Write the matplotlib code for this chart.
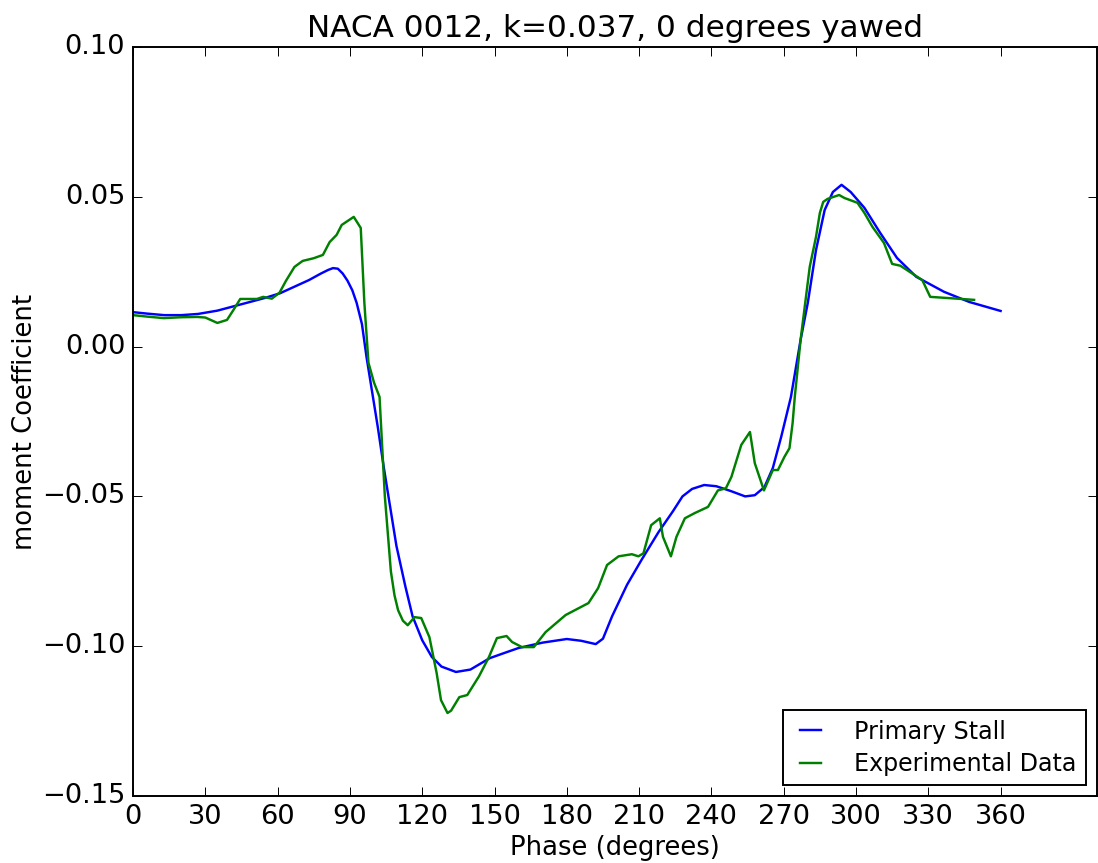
import matplotlib
matplotlib.use("Agg")
import matplotlib.pyplot as plt
import numpy as np

# model curve (Primary Stall)
phase_model = [0, 6, 13, 20, 27, 35, 42, 49, 55, 61, 67, 73, 78, 81, 83, 85,
               87, 89, 91, 92.8, 95, 96.9, 99, 101.6, 104, 107, 109.3, 113,
               116, 120, 124, 128, 134, 140, 148, 155, 160, 170, 180, 186,
               192, 195, 198.8, 205, 211, 218, 224, 228, 232, 237, 242, 248,
               254, 258, 262, 265.5, 269, 273, 277, 280, 283.4, 287, 290.4,
               294, 297.8, 303.5, 310, 317, 325, 336.5, 347, 360]
cm_model = [0.0115, 0.0110, 0.0105, 0.0105, 0.0109, 0.0120, 0.0135, 0.0150,
            0.0163, 0.0178, 0.0200, 0.0222, 0.0244, 0.0256, 0.0262, 0.0260,
            0.0244, 0.0220, 0.0188, 0.0146, 0.0075, -0.0035, -0.0140,
            -0.0270, -0.0400, -0.0550, -0.0665, -0.0800, -0.0900, -0.0980,
            -0.1036, -0.1068, -0.1086, -0.1078, -0.1040, -0.1020, -0.1006,
            -0.0988, -0.0976, -0.0982, -0.0993, -0.0975, -0.0900, -0.0795,
            -0.0712, -0.0620, -0.0550, -0.0500, -0.0475, -0.0462, -0.0466,
            -0.0482, -0.0500, -0.0496, -0.0469, -0.0405, -0.0300, -0.0168,
            0.0022, 0.0146, 0.0322, 0.0456, 0.0516, 0.0540, 0.0516, 0.0463,
            0.0380, 0.0296, 0.0233, 0.0183, 0.0149, 0.0119]

# experimental data
phase_exp = [0, 6, 12.8, 20, 26.7, 30, 35, 39, 41.5, 44.5, 51.4, 54, 57.6,
             60.8, 63.5, 67, 70.4, 75, 78.8, 81.6, 84.5, 86.6, 91.6, 94.5, 96,
             97.7, 100, 102.3, 103.5, 104.5, 105.6, 107, 108.5, 110, 112, 114,
             116.8, 119.6, 123, 126, 127.8, 130.5, 132, 135.4, 138.7, 143.6,
             147.7, 151, 155, 157.3, 161.4, 166.3, 171.2, 179.5, 189, 193,
             196.7, 201.5, 207, 209.7, 211.8, 215, 218.6, 219.9, 223.2, 225.5,
             229, 233, 238.6, 242.7, 246, 248.3, 252.4, 256, 258, 261.8, 265.5,
             267.6, 270.3, 272.4, 273.7, 274.6, 277, 280.8, 283.4, 285, 286.4,
             288.2, 293, 295.2, 300.6, 303.5, 306.8, 311.6, 315, 318.4, 327.5,
             330.8, 342, 349]
cm_exp = [0.0105, 0.0100, 0.0095, 0.0098, 0.0099, 0.0097, 0.0079, 0.0089,
          0.0120, 0.0159, 0.0159, 0.0166, 0.0160, 0.0180, 0.0220, 0.0266,
          0.0286, 0.0295, 0.0306, 0.0349, 0.0373, 0.0406, 0.0433, 0.0396,
          0.0146, -0.0054, -0.0120, -0.0168, -0.0350, -0.0500, -0.0610,
          -0.0750, -0.0830, -0.0880, -0.0915, -0.0930, -0.0903, -0.0906,
          -0.0970, -0.1090, -0.1180, -0.1223, -0.1215, -0.1170, -0.1163,
          -0.1100, -0.1036, -0.0973, -0.0966, -0.0986, -0.1003, -0.1003,
          -0.0953, -0.0896, -0.0856, -0.0806, -0.0729, -0.0700, -0.0693,
          -0.0700, -0.0690, -0.0596, -0.0573, -0.0635, -0.0700, -0.0635,
          -0.0573, -0.0556, -0.0535, -0.0480, -0.0473, -0.0435, -0.0328,
          -0.0285, -0.0389, -0.0480, -0.0412, -0.0412, -0.0368, -0.0339,
          -0.0255, -0.0168, 0.0022, 0.0266, 0.0366, 0.0446, 0.0483, 0.0493,
          0.0506, 0.0496, 0.0480, 0.0446, 0.0400, 0.0346, 0.0276, 0.0270,
          0.0222, 0.0166, 0.0160, 0.0156]

xticks = np.arange(0, 361, 30)
yticks = [-0.15, -0.10, -0.05, 0.00, 0.05, 0.10]

plt.style.use("classic")
plt.rcParams["xtick.major.size"] = 4.6
plt.rcParams["ytick.major.size"] = 4.6
plt.rcParams["xtick.labelsize"] = 14
plt.rcParams["ytick.labelsize"] = 14
plt.rcParams["axes.labelsize"] = 13.3
plt.rcParams["axes.titlesize"] = 16

fig = plt.figure(figsize=(1098 / 140, 863 / 140), dpi=140, facecolor="white")
ax = fig.add_axes([133 / 1098, 67 / 863, 964 / 1098, 749 / 863])
ax.plot(phase_model, cm_model, color="b", lw=1.25, label="Primary Stall")
ax.plot(phase_exp, cm_exp, color="g", lw=1.25, label="Experimental Data")
ax.set_xlim(0, 400)
ax.set_ylim(-0.15, 0.10)
ax.set_xticks(xticks)
ax.set_yticks(yticks)
ax.set_xlabel("Phase (degrees)", labelpad=2.5)
ax.set_ylabel("moment Coefficient", labelpad=2)
ax.set_title("NACA 0012, k=0.037, 0 degrees yawed")
ax.legend(loc="lower right", fontsize=12.2, handlelength=1.5,
          handletextpad=1.1, borderaxespad=0.45, labelspacing=0.35)
fig.savefig("out.png", dpi=140, facecolor="white")
